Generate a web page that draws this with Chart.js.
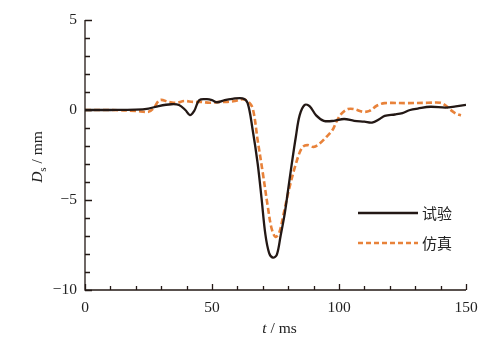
<!DOCTYPE html>
<html><head><meta charset="utf-8">
<script src="https://cdn.jsdelivr.net/npm/chart.js@4"></script>
<style>html,body{margin:0;padding:0;background:#fff}#wrap{width:504px;height:358px}</style>
</head><body><div id="wrap"><canvas id="c" width="504" height="358"></canvas></div>
<script>
const seriesNames = ['试验', '仿真'];
const testT = [0,10,20,25,29,34,37,39.5,41.3,43,45,48,50,52,55,58,62,64,66,68,69.5,71,72.5,74,75.5,77,78.7,80,81.5,83,84.5,86.5,88.5,91,94,98,102,106,110,113,116,118,122,125,128,131,136,142,146,150];
const testD = [0,0,0.02,0.08,0.22,0.32,0.28,0.0,-0.28,-0.05,0.55,0.6,0.55,0.43,0.55,0.62,0.65,0.4,-1.1,-3.0,-4.9,-6.9,-7.95,-8.2,-8.05,-7.0,-5.7,-4.4,-2.9,-1.5,-0.3,0.28,0.2,-0.3,-0.6,-0.6,-0.5,-0.6,-0.65,-0.7,-0.5,-0.33,-0.25,-0.17,0,0.08,0.18,0.13,0.2,0.28];
const simT = [0,10,20,25,27,29.5,33,36,39,42.5,46,49,53,56,59,62,64,66,68,70,72,73.5,75,76.5,78,80,82.7,85.4,87.5,90,92.5,95,97.5,99,101,103.5,106,109.5,112,115,118,127,135,140,142,144,146,148];
const simD = [0,0,-0.05,-0.1,0.1,0.55,0.45,0.4,0.5,0.45,0.45,0.4,0.45,0.45,0.5,0.6,0.5,0.1,-1.7,-3.5,-5.4,-6.6,-7.05,-6.8,-5.9,-4.6,-3.15,-2.1,-1.95,-2.05,-1.85,-1.5,-1.1,-0.65,-0.2,0.05,0.05,-0.1,-0.05,0.25,0.38,0.38,0.4,0.4,0.25,0,-0.2,-0.3];
const xMajor = [0,50,100,150];
const yMajor = [5,0,-5,-10];

const BLACK = '#231815', ORANGE = '#E8823A';
const SERIF = '"Liberation Serif","DejaVu Serif",serif';
const CJK = '"Noto Sans CJK SC",sans-serif';

const deco = {
  id: 'deco',
  afterDraw(chart) {
    const ctx = chart.ctx, xs = chart.scales.x, ys = chart.scales.y;
    const a = chart.chartArea;
    ctx.save();
    ctx.strokeStyle = BLACK; ctx.lineWidth = 1.3;
    ctx.beginPath();
    ctx.moveTo(a.left, a.top); ctx.lineTo(a.left, a.bottom); ctx.lineTo(a.right, a.bottom);
    ctx.stroke();
    ctx.beginPath();
    for (let v = 0; v <= 150; v += 10) {
      const px = Math.round(xs.getPixelForValue(v)) + 0.5;
      const len = v % 50 === 0 ? 6 : 4;
      ctx.moveTo(px, a.bottom); ctx.lineTo(px, a.bottom - len);
    }
    for (let v = -10; v <= 5; v += 1) {
      const py = Math.round(ys.getPixelForValue(v)) + 0.5;
      const len = v % 5 === 0 ? 7 : 5;
      ctx.moveTo(a.left, py); ctx.lineTo(a.left + len, py);
    }
    ctx.stroke();
    ctx.fillStyle = '#222';
    ctx.font = '15.5px ' + SERIF;
    ctx.textAlign = 'center'; ctx.textBaseline = 'middle';
    xMajor.forEach(v => ctx.fillText(String(v), xs.getPixelForValue(v), a.bottom + 18));
    ctx.textAlign = 'right';
    yMajor.forEach(v => ctx.fillText(v < 0 ? '\u2212' + Math.abs(v) : String(v), a.left - 8, ys.getPixelForValue(v)));
    ctx.textAlign = 'left';
    const xt1 = 't', xt2 = ' / ms';
    ctx.font = 'italic 15.5px ' + SERIF; const w1 = ctx.measureText(xt1).width;
    ctx.font = '15.5px ' + SERIF; const w2 = ctx.measureText(xt2).width;
    let sx = (a.left + a.right) / 2 - (w1 + w2) / 2 + 4;
    const ty = a.bottom + 39;
    ctx.font = 'italic 15.5px ' + SERIF; ctx.fillText(xt1, sx, ty);
    ctx.font = '15.5px ' + SERIF; ctx.fillText(xt2, sx + w1, ty);
    ctx.save();
    ctx.translate(38, (a.top + a.bottom) / 2 + 2);
    ctx.rotate(-Math.PI / 2);
    ctx.font = 'italic 15.5px ' + SERIF; const d1 = ctx.measureText('D').width;
    ctx.font = '11px ' + SERIF; const d2 = ctx.measureText('s').width;
    ctx.font = '15.5px ' + SERIF; const d3 = ctx.measureText(' / mm').width;
    let yx = -(d1 + d2 + d3) / 2;
    ctx.font = 'italic 15.5px ' + SERIF; ctx.fillText('D', yx, 0);
    ctx.font = '11px ' + SERIF; ctx.fillText('s', yx + d1, 5);
    ctx.font = '15.5px ' + SERIF; ctx.fillText(' / mm', yx + d1 + d2, 0);
    ctx.restore();
    const lx0 = 358, lx1 = 418;
    ctx.lineWidth = 2.6; ctx.strokeStyle = BLACK; ctx.setLineDash([]);
    ctx.beginPath(); ctx.moveTo(lx0, 213); ctx.lineTo(lx1, 213); ctx.stroke();
    ctx.strokeStyle = ORANGE; ctx.lineWidth = 2.6; ctx.setLineDash([5, 3]);
    ctx.beginPath(); ctx.moveTo(lx0, 243); ctx.lineTo(lx1, 243); ctx.stroke();
    ctx.setLineDash([]);
    ctx.fillStyle = '#222'; ctx.font = '15px ' + CJK; ctx.textAlign = 'left'; ctx.textBaseline = 'middle';
    ctx.fillText(seriesNames[0], 422, 213);
    ctx.fillText(seriesNames[1], 422, 243);
    ctx.restore();
  }
};

new Chart(document.getElementById('c'), {
  type: 'line',
  data: {
    datasets: [
      { label: seriesNames[0], data: testT.map((t, i) => ({x: t, y: testD[i]})), borderColor: BLACK, borderWidth: 2.3, pointRadius: 0, tension: 0.35, fill: false },
      { label: seriesNames[1], data: simT.map((t, i) => ({x: t, y: simD[i]})), borderColor: ORANGE, borderWidth: 2.6, borderDash: [6, 3], pointRadius: 0, tension: 0.35, fill: false }
    ]
  },
  options: {
    responsive: false, animation: false,
    layout: { padding: { left: 85, right: 38, top: 20, bottom: 68 } },
    plugins: { legend: { display: false }, tooltip: { enabled: false } },
    scales: {
      x: { type: 'linear', min: 0, max: 150, display: true, grid: { display: false, drawTicks: false }, border: { display: false }, ticks: { display: false }, afterFit(s) { s.height = 0; } },
      y: { type: 'linear', min: -10, max: 5, display: true, grid: { display: false, drawTicks: false }, border: { display: false }, ticks: { display: false }, afterFit(s) { s.width = 0; } }
    }
  },
  plugins: [deco]
});
</script></body></html>
